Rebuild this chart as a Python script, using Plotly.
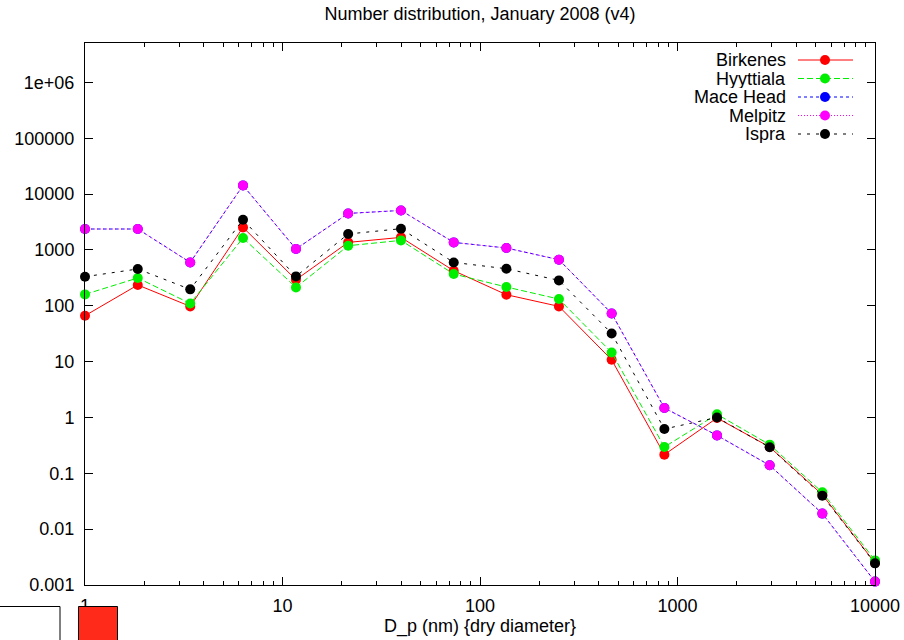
import plotly.graph_objects as go

# ---------------- data ----------------
diameters = [1, 1.85, 3.41, 6.31, 11.7, 21.5, 39.8, 73.6, 136, 251, 464, 858, 1585, 2929, 5412, 10000]

birkenes = [66.5, 236, 97.6, 2535, 293, 1365, 1678, 425, 158, 97.6, 10.8, 0.216, 0.98, 0.296, 0.0415, 0.00248]
hyytiala = [160, 315, 110, 1637, 213, 1191, 1483, 371, 217, 132, 14.6, 0.296, 1.14, 0.326, 0.0456, 0.00276]
mace_head = [2372, 2372, 598, 14320, 1040, 4510, 5100, 1365, 1084, 669, 73, 1.48, 0.478, 0.139, 0.019, 0.00115]
melpitz = [2372, 2372, 598, 14320, 1040, 4510, 5100, 1365, 1084, 669, 73, 1.48, 0.478, 0.139, 0.019, 0.00115]
ispra = [332, 456, 197, 3480, 336, 1931, 2404, 598, 461, 285, 32, 0.622, 1.0, 0.292, 0.0398, 0.00244]

series_names = ["Birkenes", "Hyyttiala", "Mace Head", "Melpitz", "Ispra"]
series_values = [birkenes, hyytiala, mace_head, melpitz, ispra]
series_colors = ["#ff0000", "#00ee00", "#0000ff", "#ff00ff", "#000000"]
series_dash = ["solid", "6px,3px", "3px,3px", "1px,2px", "3px,6px"]

x_tickvals = [1, 10, 100, 1000, 10000]
x_ticktext = ["1", "10", "100", "1000", "10000"]
x_minor_tickvals = [2, 3, 4, 5, 6, 7, 8, 9,
                    20, 30, 40, 50, 60, 70, 80, 90,
                    200, 300, 400, 500, 600, 700, 800, 900,
                    2000, 3000, 4000, 5000, 6000, 7000, 8000, 9000]
y_tickvals = [0.001, 0.01, 0.1, 1, 10, 100, 1000, 10000, 100000, 1000000]
y_ticktext = ["0.001", "0.01", "0.1", "1", "10", "100", "1000", "10000", "100000", "1e+06"]

title_text = "Number distribution, January 2008 (v4)"
x_title = "D_p (nm) {dry diameter}"

# ---------------- layout geometry ----------------
W, H = 904, 640
L, R, T, B = 85, 875, 43, 585
FONT = "Liberation Sans, Arial, Helvetica, sans-serif"
FS = 18


def px_x(px):
    return (px - L) / (R - L)


def px_y(py):
    return (B - py) / (B - T)


fig = go.Figure()

for name, vals, col, dash in zip(series_names, series_values, series_colors, series_dash):
    fig.add_trace(go.Scatter(
        x=diameters, y=vals, mode="lines+markers", name=name,
        line=dict(color=col, width=1, dash=dash),
        marker=dict(color=col, size=10, line=dict(width=0)),
        showlegend=False, cliponaxis=False,
    ))

# ---------------- gnuplot-style key (text left, sample right) ----------------
key_rows = [60, 78.5, 97, 115.5, 134]
for name, col, dash, ry in zip(series_names, series_colors, series_dash, key_rows):
    fig.add_trace(go.Scatter(
        x=[798, 853], y=[ry, ry], mode="lines", xaxis="x2", yaxis="y2",
        line=dict(color=col, width=1, dash=dash), showlegend=False, hoverinfo="skip",
    ))
    fig.add_trace(go.Scatter(
        x=[825], y=[ry], mode="markers", xaxis="x2", yaxis="y2",
        marker=dict(color=col, size=10, line=dict(width=0)), showlegend=False, hoverinfo="skip",
    ))
    fig.add_annotation(x=787, y=ry, xref="x2", yref="y2", text=name, showarrow=False,
                       xanchor="right", yanchor="middle", height=18, borderpad=0,
                       font=dict(family=FONT, size=FS, color="black"))

axis_common = dict(showgrid=False, zeroline=False, showline=True, linecolor="black", linewidth=1,
                   mirror="ticks", ticks="inside", tickcolor="black", tickwidth=1, ticklen=8,
                   automargin=False,
                   tickfont=dict(family=FONT, size=FS, color="black"))

fig.update_layout(
    width=W, height=H,
    margin=dict(l=L, r=W - R, t=T, b=H - B, pad=0, autoexpand=False),
    paper_bgcolor="white", plot_bgcolor="white",
    font=dict(family=FONT, size=FS, color="black"),
    title=dict(text=title_text, x=0.5, xref="paper", xanchor="center",
               y=1 - 14 / H, yref="container", yanchor="middle",
               font=dict(family=FONT, size=FS, color="black")),
    xaxis=dict(type="log", range=[0, 4], tickvals=x_tickvals, ticktext=x_ticktext,
               minor=dict(tickvals=x_minor_tickvals, ticks="inside", ticklen=4,
                          tickcolor="black", showgrid=False),
               title=dict(text=x_title, standoff=4, font=dict(family=FONT, size=FS)),
               ticklabelstandoff=4, **axis_common),
    yaxis=dict(type="log", range=[-3, 6.706], tickvals=y_tickvals, ticktext=y_ticktext,
               ticklabelstandoff=6, **axis_common),
    xaxis2=dict(domain=[0, 1], range=[L, R], visible=False, overlaying="x", anchor="y2", fixedrange=True),
    yaxis2=dict(domain=[0, 1], range=[B, T], visible=False, overlaying="y", anchor="x2", fixedrange=True),
    showlegend=False,
)

# odd boxes at the bottom left of the original picture
fig.add_shape(type="rect", xref="paper", yref="paper",
              x0=px_x(-2), x1=px_x(60), y0=px_y(642), y1=px_y(606.5),
              line=dict(color="black", width=1), fillcolor="white", layer="above")
fig.add_shape(type="rect", xref="paper", yref="paper",
              x0=px_x(78.5), x1=px_x(117.5), y0=px_y(642), y1=px_y(606.5),
              line=dict(color="black", width=1), fillcolor="#ff2a1a", layer="above")

fig.write_html("out.html", config={"displayModeBar": False},
               post_script="document.body.style.margin='0';document.body.style.overflow='hidden';")
